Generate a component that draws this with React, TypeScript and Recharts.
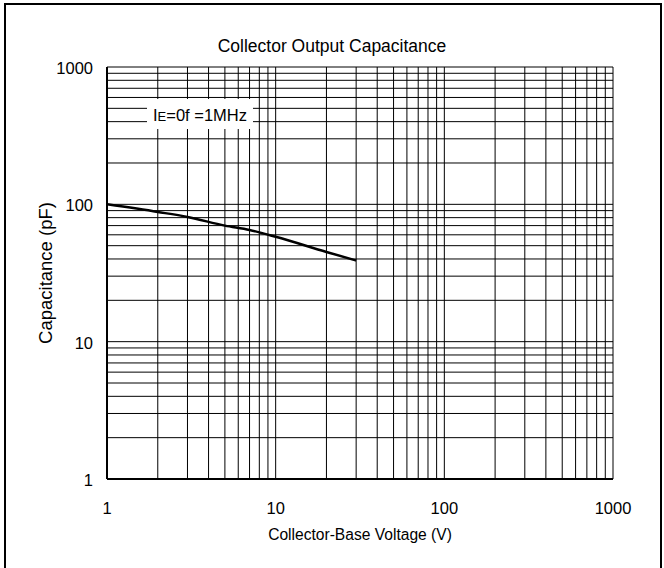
import React from 'react';
import { LineChart, Line, XAxis, YAxis, CartesianGrid } from 'recharts';

// (VCB in V, Cob in pF)
const voltages = [1, 2, 3, 5, 7, 10, 20, 30];
const capacitance = [100, 88, 81, 70, 65, 58, 45, 39];

const xTicks = [1, 2, 3, 4, 5, 6, 7, 8, 9, 10, 20, 30, 40, 50, 60, 70, 80, 90, 100, 200, 300, 400, 500, 600, 700, 800, 900, 1000];
const yTicks = [1, 2, 3, 4, 5, 6, 7, 8, 9, 10, 20, 30, 40, 50, 60, 70, 80, 90, 100, 200, 300, 400, 500, 600, 700, 800, 900, 1000];
const decadeLabels = [1, 10, 100, 1000];

const data = voltages.map((v, i) => ({ v, c: capacitance[i] }));

const FONT = 'Liberation Sans, Arial, sans-serif';

const XTick = (props: any) => {
  const { x, y, payload } = props;
  if (!decadeLabels.includes(payload.value)) return <g />;
  return (
    <text x={x} y={y + 27} textAnchor="middle" fontSize={16.5} fontFamily={FONT} fill="#000">
      {payload.value}
    </text>
  );
};

const YTick = (props: any) => {
  const { y, payload } = props;
  if (!decadeLabels.includes(payload.value)) return <g />;
  return (
    <text x={93} y={y + 7} textAnchor="end" fontSize={16.5} fontFamily={FONT} fill="#000">
      {payload.value}
    </text>
  );
};

const App: React.FC = () => {
  return (
    <div style={{ position: 'absolute', left: 0, top: 0, width: 664, height: 568, background: '#fff', fontFamily: FONT }}>
      <div
        style={{
          position: 'absolute',
          left: 4,
          top: 3,
          width: 654,
          height: 570,
          borderLeft: '2px solid #000',
          borderTop: '2px solid #000',
          borderRight: '2px solid #000',
        }}
      />
      <div
        style={{
          position: 'absolute',
          left: 0,
          width: 664,
          top: 36,
          textAlign: 'center',
          fontSize: 17.5,
          color: '#000',
        }}
      >
        Collector Output Capacitance
      </div>
      <LineChart
        width={664}
        height={568}
        data={data}
        margin={{ top: 67, right: 51, bottom: 28, left: 47 }}
        style={{ position: 'absolute', left: 0, top: 0 }}
      >
        <CartesianGrid stroke="#000" strokeWidth={1} horizontalValues={yTicks} verticalValues={xTicks} />
        <XAxis
          dataKey="v"
          type="number"
          scale="log"
          domain={[1, 1000]}
          ticks={xTicks}
          allowDataOverflow
          interval={0}
          height={61}
          tickLine={false}
          axisLine={{ stroke: '#000', strokeWidth: 2 }}
          tick={<XTick />}
          label={{ value: 'Collector-Base Voltage (V)', position: 'insideBottom', offset: 0, fill: '#000', fontSize: 15.6, fontFamily: FONT }}
        />
        <YAxis
          type="number"
          scale="log"
          domain={[1, 1000]}
          ticks={yTicks}
          allowDataOverflow
          interval={0}
          width={60}
          tickLine={false}
          axisLine={{ stroke: '#000', strokeWidth: 2 }}
          tick={<YTick />}
          label={{ value: 'Capacitance (pF)', angle: -90, position: 'insideLeft', offset: -2, fill: '#000', fontSize: 18.5, fontFamily: FONT, style: { textAnchor: 'middle' } }}
        />
        <Line type="monotone" dataKey="c" stroke="#000" strokeWidth={2.5} dot={false} isAnimationActive={false} />
      </LineChart>
      <div
        style={{
          position: 'absolute',
          left: 147,
          top: 99,
          width: 106,
          height: 30,
          background: '#fff',
          fontSize: 16.5,
          lineHeight: '32px',
          textAlign: 'center',
          color: '#000',
          whiteSpace: 'nowrap',
        }}
      >
        I<span style={{ fontSize: 13 }}>E</span>=0f =1MHz
      </div>
    </div>
  );
};

export default App;
